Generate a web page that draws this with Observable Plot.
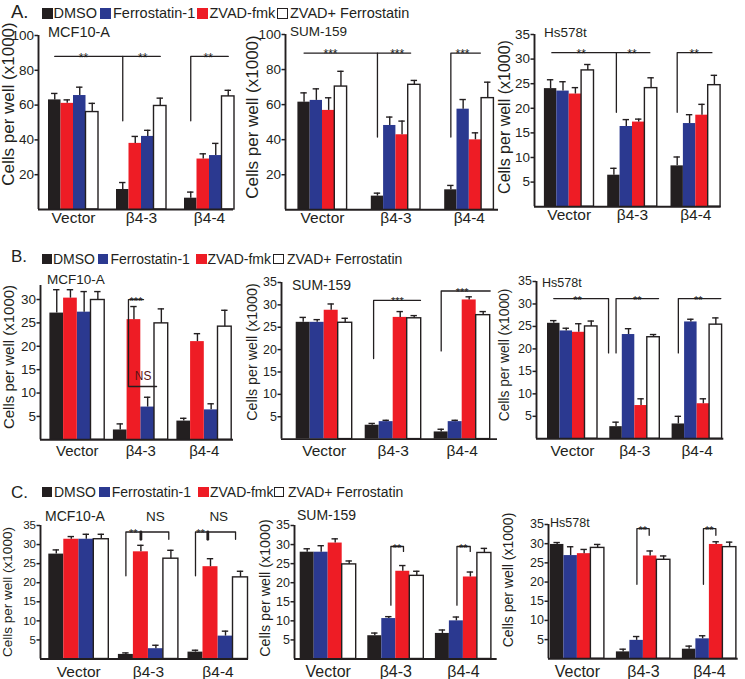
<!DOCTYPE html>
<html><head><meta charset="utf-8">
<script src="https://cdn.jsdelivr.net/npm/d3@7"></script>
<script src="https://cdn.jsdelivr.net/npm/@observablehq/plot@0.6"></script>
<style>
body{margin:0;background:#fff;}
#fig{position:relative;width:745px;height:679px;overflow:hidden;background:#fff;font-family:"Liberation Sans",Arial,Helvetica,sans-serif;color:#231f20;}
.t{position:absolute;white-space:nowrap;line-height:1;}
.sq{position:absolute;box-sizing:border-box;}
</style></head><body><div id="fig"></div>
<script>
// ---------- data ----------
const groups = ["Vector", "β4-3", "β4-4"];
const treatments = ["DMSO", "Ferrostatin-1", "ZVAD-fmk", "ZVAD+ Ferrostatin"];
const treatmentColors = ["#231f20", "#2b3990", "#ee1c25", "#ffffff"];
const cellLines = ["MCF10-A", "SUM-159", "Hs578t"];
const rowLabels = ["A.", "B.", "C."];
const yLabel = "Cells per well (x1000)";
const ticks100 = [20, 40, 60, 80, 100];
const ticks35 = [5, 10, 15, 20, 25, 30, 35];
const ticks30 = [5, 10, 15, 20, 25, 30];

// means / error, [group][treatment] in legend order
const A_MCF10A_mean = [[63, 65.5, 61, 56], [11.5, 42, 38, 59.5], [6.5, 31, 29, 65]];
const A_MCF10A_sem  = [[3.7, 4.8, 2, 5], [4, 3.5, 4, 4.5], [3.5, 7, 3, 3.5]];
const A_SUM159_mean = [[61.4, 62.4, 56.7, 70.3], [7.8, 48.1, 42.8, 71.3], [11.4, 57.4, 39.9, 63.7]];
const A_SUM159_sem  = [[5.3, 6.6, 7.2, 8.7], [1.7, 4.8, 7.8, 2.5], [2.5, 5.5, 4.0, 9.1]];
const A_Hs578t_mean = [[24.0, 23.5, 22.9, 27.7], [6.4, 16.3, 17.2, 24.1], [8.3, 16.9, 18.6, 24.7]];
const A_Hs578t_sem  = [[1.8, 1.9, 1.3, 1.2], [1.4, 1.4, 0.6, 2.1], [1.8, 1.8, 2.2, 2.0]];
const B_MCF10A_mean = [[27.1, 27.3, 30.3, 29.9], [2.1, 7.0, 25.7, 24.9], [4.0, 6.4, 21.0, 24.2]];
const B_MCF10A_sem  = [[5.0, 4.4, 1.8, 1.8], [1.3, 2.1, 2.8, 3.1], [0.6, 1.3, 1.7, 3.5]];
const B_SUM159_mean = [[26.1, 26.1, 28.8, 26.0], [3.1, 3.9, 27.2, 27.0], [1.6, 3.9, 31.1, 27.7]];
const B_SUM159_sem  = [[1.1, 0.6, 1.4, 1.0], [0.4, 0.3, 1.3, 0.6], [0.6, 0.3, 0.7, 0.8]];
const B_Hs578t_mean = [[25.7, 24.0, 23.7, 25.0], [2.7, 23.2, 7.4, 22.6], [3.3, 26.0, 7.8, 25.4]];
const B_Hs578t_sem  = [[0.6, 0.6, 1.9, 1.2], [1.0, 1.3, 1.5, 0.6], [1.7, 0.6, 1.1, 1.5]];
const C_MCF10A_mean = [[27.5, 31.4, 31.4, 31.4], [1.2, 2.7, 28.1, 26.3], [1.8, 6.0, 24.2, 21.4]];
const C_MCF10A_sem  = [[1.1, 1.3, 0.7, 1.3], [0.4, 0.9, 1.7, 2.2], [0.5, 1.3, 2.1, 1.6]];
const C_SUM159_mean = [[28.0, 28.0, 30.4, 24.8], [6.1, 10.6, 23.0, 21.8], [6.7, 10.0, 21.5, 27.8]];
const C_SUM159_sem  = [[0.9, 1.7, 1.1, 0.9], [0.7, 0.5, 1.5, 1.2], [0.9, 1.0, 1.3, 1.2]];
const C_Hs578t_mean = [[29.8, 26.9, 27.4, 28.9], [1.8, 4.8, 26.8, 25.8], [2.5, 5.2, 29.8, 29.1]];
const C_Hs578t_sem  = [[0.5, 2.3, 1.1, 0.9], [0.7, 1.0, 1.3, 1.0], [0.8, 0.8, 0.7, 1.3]];

// significance brackets: points as [group, bar slot, value]; labels as [text, group, slot, value]
const A_MCF10A_sig = [[[0,0,88],[1,3,88]], [[1,0,88],[1,0,51]], [[2,0,51],[2,0,88],[2,3,88]]];
const A_MCF10A_lab = [["**",0,2.3,88], ["**",1,1.6,88], ["**",2,1.4,88]];
const A_SUM159_sig = [[[0,0,89.4],[1,2.7,89.4]], [[1,0,89.4],[1,0,41.5]], [[2,0,41.5],[2,0,89.4],[2,2.4,89.4]]];
const A_SUM159_lab = [["***",0,2.15,89.4], ["***",1,1.6,89.4], ["***",2,0.95,89.4]];
const A_Hs578t_sig = [[[0,0.1,31.3],[1,2.9,31.3]], [[1,0.2,31.3],[1,0.2,19.2]], [[2,0,19.2],[2,0,31.3],[2,2.8,31.3]]];
const A_Hs578t_lab = [["**",0,2.47,31.3], ["**",1,1.45,31.3], ["**",2,1.37,31.3]];
const B_MCF10A_sig = [[[1,1.7,30],[1,0.6,30],[1,0.6,11.4],[1,2.65,11.4]]];
const B_MCF10A_lab = [["***",1,1.15,30], ["NS",1,1.67,13.7]];
const B_SUM159_sig = [[[1,0.1,18],[1,0.1,31],[1,3.45,31]], [[2,0,19.7],[2,0,33.1],[2,3.5,33.1]]];
const B_SUM159_lab = [["***",1,1.8,31], ["***",2,1.5,33.1]];
const B_Hs578t_sig = [[[0,0,31.2],[1,-0.6,31.2],[1,-0.6,19.1]], [[1,0,19.1],[1,0,31.2],[1,3.4,31.2]], [[2,0,19.1],[2,0,31.2],[2,3.4,31.2]]];
const B_Hs578t_lab = [["**",0,1.9,31.2], ["**",1,1.7,31.2], ["**",2,1.6,31.2]];
const C_MCF10A_sig = [[[1,0,21.8],[1,0,33.3],[1,2.86,33.3],[1,2.86,31.4]], [[1,1,33.3],[1,1,31.4]],
                      [[2,0,21.8],[2,0,33.3],[2,2.67,33.3],[2,2.67,31.4]], [[2,0.82,33.3],[2,0.82,31.4]]];
const C_MCF10A_lab = [["**",1,0.49,33.3], ["**",2,0.33,33.3], ["NS",1,1.97,37.2], ["NS",2,1.55,37.2]];
const C_SUM159_sig = [[[1,1.15,14.1],[1,1.15,29.5],[1,2.05,29.5],[1,2.05,28.2]], [[2,1.04,14.1],[2,1.04,29.5],[2,1.99,29.5],[2,1.99,28.2]]];
const C_SUM159_lab = [["**",1,1.58,29.5], ["**",2,1.49,29.5]];
const C_Hs578t_sig = [[[1,1.02,19.4],[1,1.02,33.9],[1,1.93,33.9],[1,1.93,32.2]], [[2,1.06,19.4],[2,1.06,33.9],[2,1.98,33.9],[2,1.98,32.2]]];
const C_Hs578t_lab = [["**",1,1.46,33.9], ["**",2,1.49,33.9]];

// ---------- layout ----------
const ORDER_MCF = [0, 2, 1, 3];   // bar order: DMSO, ZVAD, Ferro, ZVAD+F
const ORDER_STD = [0, 1, 2, 3];
const panels = [
  {mean:A_MCF10A_mean, sem:A_MCF10A_sem, sig:A_MCF10A_sig, lab:A_MCF10A_lab, cell:0, order:ORDER_MCF, ticks:ticks100, yMax:100,
   xL:38, xR:233, yT:34.5, yB:208.5, c0:73, S:68, bw:12.5, tf:13.5, xf:15.5, xp:2, ylab:[8,103.5,17], title:[48,31.7,14.5], sf:12, nsf:13},
  {mean:A_SUM159_mean, sem:A_SUM159_sem, sig:A_SUM159_sig, lab:A_SUM159_lab, cell:1, order:ORDER_STD, ticks:ticks100, yMax:100,
   xL:285, xR:498, yT:34, yB:209.3, c0:322, S:73.4, bw:12.3, tf:13.5, xf:15.5, xp:2, ylab:[252,116.7,17], title:[290,31.7,13.5], sf:12, nsf:13},
  {mean:A_Hs578t_mean, sem:A_Hs578t_sem, sig:A_Hs578t_sig, lab:A_Hs578t_lab, cell:2, order:ORDER_STD, ticks:ticks35, yMax:35,
   xL:534.3, xR:721, yT:34.3, yB:206.5, c0:569, S:63.3, bw:12.4, tf:13.5, xf:15.5, xp:2, ylab:[505,116.7,16], title:[544,32.7,13.5], sf:12, nsf:13},
  {mean:B_MCF10A_mean, sem:B_MCF10A_sem, sig:B_MCF10A_sig, lab:B_MCF10A_lab, cell:0, order:ORDER_MCF, ticks:ticks30, yMax:33,
   xL:40, xR:233, yT:285, yB:439.3, c0:76.8, S:63.5, bw:13.7, tf:13.5, xf:15, xp:6, ylab:[8.3,356.7,15], title:[47,280,13.5], sf:11, nsf:12, nsc:"#5a1414"},
  {mean:B_SUM159_mean, sem:B_SUM159_sem, sig:B_SUM159_sig, lab:B_SUM159_lab, cell:1, order:ORDER_STD, ticks:ticks35, yMax:35,
   xL:281, xR:497, yT:281.7, yB:438.3, c0:323.7, S:69, bw:14, tf:12.5, xf:15.5, xp:6, ylab:[251.7,351.7,14.3], title:[292,285,14], sf:11, nsf:13},
  {mean:B_Hs578t_mean, sem:B_Hs578t_sem, sig:B_Hs578t_sig, lab:B_Hs578t_lab, cell:2, order:ORDER_STD, ticks:ticks35, yMax:35,
   xL:535.7, xR:723, yT:281, yB:438.3, c0:571.7, S:62.3, bw:12.5, tf:12.5, xf:15.5, xp:6, ylab:[505,355,13.8], title:[542,283,12.5], sf:11, nsf:13},
  {mean:C_MCF10A_mean, sem:C_MCF10A_sem, sig:C_MCF10A_sig, lab:C_MCF10A_lab, cell:0, order:ORDER_MCF, ticks:ticks35, yMax:35,
   xL:40, xR:248, yT:525, yB:658.5, c0:78.3, S:69.6, bw:15, tf:11.5, xf:15.5, xp:7, ylab:[8.3,591.7,13.5], title:[45,516,14], sf:11, nsf:13.5},
  {mean:C_SUM159_mean, sem:C_SUM159_sem, sig:C_SUM159_sig, lab:C_SUM159_lab, cell:1, order:ORDER_STD, ticks:ticks35, yMax:35,
   xL:294.3, xR:497, yT:525, yB:658.5, c0:328, S:67.6, bw:14, tf:12.5, xf:16, xp:7, ylab:[265,588,14.3], title:[297,515,14], sf:11, nsf:13},
  {mean:C_Hs578t_mean, sem:C_Hs578t_sem, sig:C_Hs578t_sig, lab:C_Hs578t_lab, cell:2, order:ORDER_STD, ticks:ticks35, yMax:35,
   xL:548.3, xR:738, yT:524, yB:658.3, c0:577.2, S:66, bw:13.5, tf:12.5, xf:16, xp:7, ylab:[508,579.5,14], title:[550,523,12.5], sf:11, nsf:13}
];
// legend rows
const legendRows = [
  {lx:11, ly:11.7, ls:18.5, cy:13.3, sq:11, fs:14.5, sqx:[41.7,100,197,277], tx:[53.5,113,209.5,290]},
  {lx:11, ly:255.8, ls:17, cy:259, sq:10.5, fs:14, sqx:[41.7,97.7,196,273], tx:[53,110.5,207.5,287]},
  {lx:11, ly:491.5, ls:17, cy:492, sq:10.5, fs:14, sqx:[41.7,99,198,273.5], tx:[54,111.7,210,288]}
];

const INK = "#231f20";
const FONT = '"Liberation Sans", Arial, Helvetica, sans-serif';
const fig = document.getElementById("fig");

function addText(txt, x, y, size, extra) {
  const d = document.createElement("div");
  d.className = "t";
  d.textContent = txt;
  d.style.left = x + "px";
  d.style.top = y + "px";
  d.style.fontSize = size + "px";
  d.style.transform = "translateY(-50%)";
  if (extra) Object.assign(d.style, extra);
  fig.appendChild(d);
  return d;
}

// legends
legendRows.forEach((r, ri) => {
  addText(rowLabels[ri], r.lx, r.ly, r.ls);
  treatments.forEach((t, ti) => {
    const s = document.createElement("div");
    s.className = "sq";
    s.style.left = r.sqx[ti] + "px";
    s.style.top = (r.cy - r.sq / 2) + "px";
    s.style.width = r.sq + "px";
    s.style.height = r.sq + "px";
    s.style.background = treatmentColors[ti];
    if (ti === 3) s.style.border = "1.3px solid " + INK;
    fig.appendChild(s);
    addText(t, r.tx[ti], r.cy, r.fs);
  });
});

// panels
panels.forEach(p => {
  const u = p.bw / p.S;              // bar width in group units
  const xPos = (g, slot) => g + (slot - 1.5) * u;
  const rows = [];
  groups.forEach((g, gi) => treatments.forEach((t, ti) => {
    const slot = p.order.indexOf(ti);
    rows.push({group: g, treatment: t, ti, mean: p.mean[gi][ti], sem: p.sem[gi][ti], xc: xPos(gi, slot)});
  }));
  const hw = u / 2, cap = 3.2 / p.S;
  const x0 = -(p.c0 - p.xL) / p.S, x1 = (p.xR - p.c0) / p.S;
  const lines = [];
  p.sig.forEach((path, k) => {
    const thick = path.length === 2 && path[0][1] === path[1][1] && Math.abs(path[0][2] - path[1][2]) < 3;
    path.forEach(pt => lines.push({k, x: xPos(pt[0], pt[1]), y: pt[2], thick}));
  });
  const thick = lines.filter(d => d.thick), thin = lines.filter(d => !d.thick);
  const labs = p.lab.map(l => ({text: l[0], x: xPos(l[1], l[2]), y: l[3]}));
  const stars = labs.filter(d => d.text !== "NS"), ns = labs.filter(d => d.text === "NS");
  const mL = 40, mR = 8, mT = 24, mB = 28;
  const width = p.xR - p.xL + mL + mR, height = p.yB - p.yT + mT + mB;
  const colored = rows.filter(d => d.ti !== 3), white = rows.filter(d => d.ti === 3);
  const svg = Plot.plot({
    width, height, marginLeft: mL, marginRight: mR, marginTop: mT, marginBottom: mB,
    x: {type: "linear", domain: [x0, x1]},
    y: {type: "linear", domain: [0, p.yMax]},
    style: {fontFamily: FONT, background: "transparent", overflow: "visible", color: INK},
    marks: [
      Plot.rect(colored, {x1: d => d.xc - hw, x2: d => d.xc + hw, y1: d => 0, y2: "mean", fill: d => treatmentColors[d.ti]}),
      Plot.rect(white, {x1: d => d.xc - hw, x2: d => d.xc + hw, y1: d => 0, y2: "mean", fill: "#ffffff", stroke: INK, strokeWidth: 1.4}),
      Plot.ruleX(rows, {x: "xc", y1: "mean", y2: d => d.mean + d.sem, stroke: INK, strokeWidth: 1.4}),
      Plot.ruleY(rows, {y: d => d.mean + d.sem, x1: d => d.xc - cap, x2: d => d.xc + cap, stroke: INK, strokeWidth: 1.4}),
      Plot.line(thin, {x: "x", y: "y", z: "k", stroke: INK, strokeWidth: 1.3}),
      Plot.line(thick, {x: "x", y: "y", z: "k", stroke: INK, strokeWidth: 2.8}),
      Plot.text(stars, {x: "x", y: "y", text: "text", fontSize: p.sf, fill: "#222", lineAnchor: "middle", dy: 1.5}),
      Plot.text(ns, {x: "x", y: "y", text: "text", fontSize: p.nsf, fill: p.nsc || INK, lineAnchor: "middle"}),
      Plot.ruleX([x0], {stroke: INK, strokeWidth: 1.9}),
      Plot.ruleY([0], {stroke: INK, strokeWidth: 1.9}),
      Plot.axisY({ticks: p.ticks, tickSize: 3.5, tickPadding: 1, fontSize: p.tf, label: null, stroke: INK, strokeWidth: 1.5}),
      Plot.axisX({ticks: [0, 1, 2], tickFormat: i => groups[i], tickSize: 0, tickPadding: p.xp, fontSize: p.xf, label: null})
    ]
  });
  svg.style.position = "absolute";
  svg.style.left = (p.xL - mL) + "px";
  svg.style.top = (p.yT - mT) + "px";
  svg.style.maxWidth = "none";
  fig.appendChild(svg);
  addText(cellLines[p.cell], p.title[0], p.title[1], p.title[2]);
  addText(yLabel, p.ylab[0], p.ylab[1], p.ylab[2], {transform: "translate(-50%,-50%) rotate(-90deg)"});
});
</script></body></html>
